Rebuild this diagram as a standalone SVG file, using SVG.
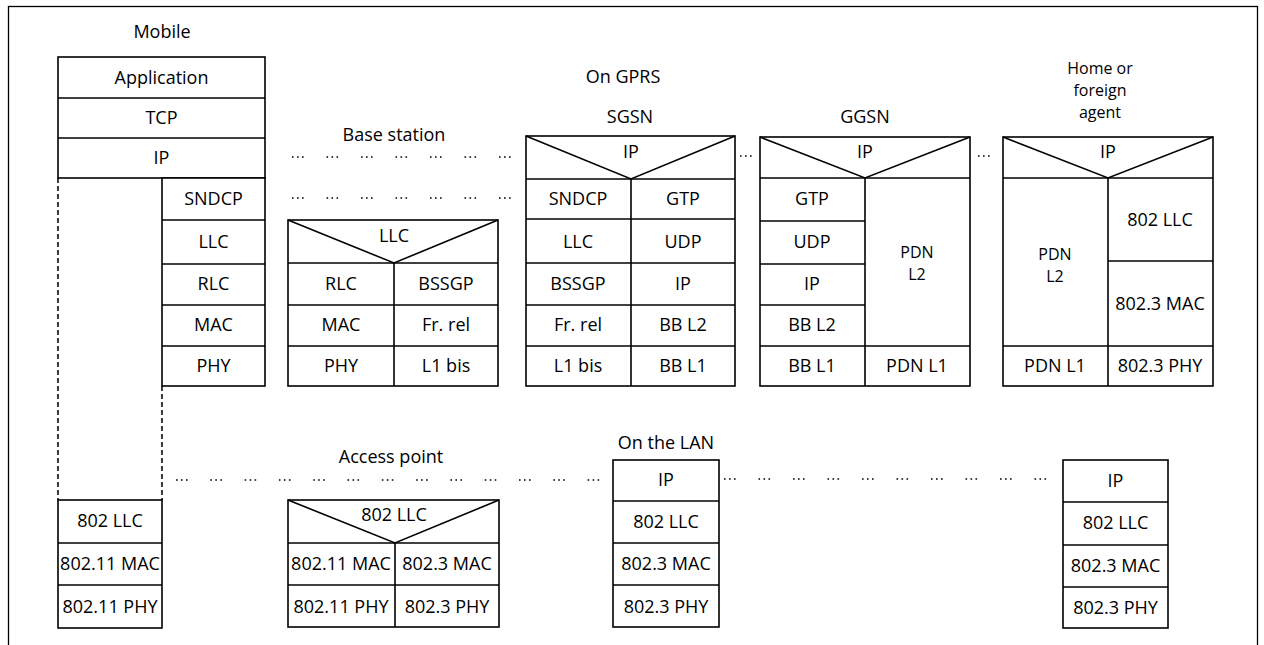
<svg xmlns="http://www.w3.org/2000/svg" width="1264" height="645" viewBox="0 0 1264 645">
<style>
  .box { fill: #fff; stroke: #000; stroke-width: 1.6; }
  .ln { stroke: #000; stroke-width: 1.6; fill: none; }
  .t { font-family: "Open Sans", "Liberation Sans", sans-serif; font-size: 18px; fill: #000; text-anchor: middle; }
  .lbl { font-family: "Open Sans", "Liberation Sans", sans-serif; font-size: 18px; fill: #000; text-anchor: middle; }
  .sm { font-size: 16px; }
  .dots { stroke: #000; stroke-width: 1.6; fill: none; stroke-dasharray: 1.6 3.4 1.6 3.4 1.6 22.9; }
  .dots2 { stroke: #000; stroke-width: 1.6; fill: none; stroke-dasharray: 1.6 3.4 1.6 3.4 1.6 22.7; }
  .dash { stroke: #000; stroke-width: 1.5; fill: none; stroke-dasharray: 5 3; }
  .frame { fill: none; stroke: #000; stroke-width: 1.3; }
</style>
<rect width="1264" height="645" fill="#fff"/>
<rect class="frame" x="8.5" y="6.5" width="1249" height="700"/>

<g id="labels">
  <text class="lbl" x="162" y="38">Mobile</text>
  <text class="lbl" x="623" y="83">On GPRS</text>
  <text class="lbl" x="394" y="141">Base station</text>
  <text class="lbl" x="630" y="123">SGSN</text>
  <text class="lbl" x="865" y="123">GGSN</text>
  <text class="lbl sm" x="1100" y="74">Home or</text>
  <text class="lbl sm" x="1100" y="96">foreign</text>
  <text class="lbl sm" x="1100" y="118">agent</text>
  <text class="lbl" x="391" y="463">Access point</text>
  <text class="lbl" x="666" y="449">On the LAN</text>
</g>

<g id="connectors">
  <line class="dots" x1="292" y1="157" x2="512" y2="157"/>
  <line class="dots" x1="292" y1="198" x2="512" y2="198"/>
  <line class="dots" x1="740" y1="156" x2="753" y2="156"/>
  <line class="dots" x1="978" y1="156" x2="991" y2="156"/>
  <line class="dots2" x1="176" y1="480" x2="600" y2="480"/>
  <line class="dots" x1="724" y1="479" x2="1051" y2="479"/>
  <line class="dash" x1="58" y1="178" x2="58" y2="500"/>
  <line class="dash" x1="162" y1="386" x2="162" y2="500"/>
</g>

<g id="mobile">
  <rect class="box" x="58" y="57" width="207" height="121"/>
  <line class="ln" x1="58" y1="98" x2="265" y2="98"/>
  <line class="ln" x1="58" y1="138" x2="265" y2="138"/>
  <text class="t" x="161.5" y="84">Application</text>
  <text class="t" x="161.5" y="124">TCP</text>
  <text class="t" x="161.5" y="164">IP</text>
  <rect class="box" x="162" y="178" width="103" height="208"/>
  <line class="ln" x1="162" y1="220" x2="265" y2="220"/>
  <line class="ln" x1="162" y1="264" x2="265" y2="264"/>
  <line class="ln" x1="162" y1="305" x2="265" y2="305"/>
  <line class="ln" x1="162" y1="346" x2="265" y2="346"/>
  <text class="t" x="213.5" y="205">SNDCP</text>
  <text class="t" x="213.5" y="248">LLC</text>
  <text class="t" x="213.5" y="290">RLC</text>
  <text class="t" x="213.5" y="331">MAC</text>
  <text class="t" x="213.5" y="372">PHY</text>
</g>

<g id="mobile-wlan">
  <rect class="box" x="58" y="500" width="104" height="128"/>
  <line class="ln" x1="58" y1="543" x2="162" y2="543"/>
  <line class="ln" x1="58" y1="585" x2="162" y2="585"/>
  <text class="t" x="110" y="527">802 LLC</text>
  <text class="t" x="110" y="570">802.11 MAC</text>
  <text class="t" x="110" y="613">802.11 PHY</text>
</g>

<g id="base-station">
  <rect class="box" x="288" y="220" width="210" height="166"/>
  <polyline class="ln" points="288,220 394,263 498,220"/>
  <line class="ln" x1="288" y1="263" x2="498" y2="263"/>
  <line class="ln" x1="288" y1="305" x2="498" y2="305"/>
  <line class="ln" x1="288" y1="346" x2="498" y2="346"/>
  <line class="ln" x1="394" y1="263" x2="394" y2="386"/>
  <text class="t" x="394" y="242">LLC</text>
  <text class="t" x="341" y="290">RLC</text>
  <text class="t" x="446" y="290">BSSGP</text>
  <text class="t" x="341" y="331">MAC</text>
  <text class="t" x="446" y="331">Fr. rel</text>
  <text class="t" x="341" y="372">PHY</text>
  <text class="t" x="446" y="372">L1 bis</text>
</g>

<g id="sgsn">
  <rect class="box" x="526" y="136" width="209" height="250"/>
  <polyline class="ln" points="526,136 631,179 735,136"/>
  <line class="ln" x1="526" y1="179" x2="735" y2="179"/>
  <line class="ln" x1="526" y1="219" x2="735" y2="219"/>
  <line class="ln" x1="526" y1="263" x2="735" y2="263"/>
  <line class="ln" x1="526" y1="305" x2="735" y2="305"/>
  <line class="ln" x1="526" y1="346" x2="735" y2="346"/>
  <line class="ln" x1="631" y1="179" x2="631" y2="386"/>
  <text class="t" x="631" y="158">IP</text>
  <text class="t" x="578" y="205">SNDCP</text>
  <text class="t" x="683" y="205">GTP</text>
  <text class="t" x="578" y="248">LLC</text>
  <text class="t" x="683" y="248">UDP</text>
  <text class="t" x="578" y="290">BSSGP</text>
  <text class="t" x="683" y="290">IP</text>
  <text class="t" x="578" y="331">Fr. rel</text>
  <text class="t" x="683" y="331">BB L2</text>
  <text class="t" x="578" y="372">L1 bis</text>
  <text class="t" x="683" y="372">BB L1</text>
</g>

<g id="ggsn">
  <rect class="box" x="760" y="137" width="210" height="249"/>
  <polyline class="ln" points="760,137 865,178 970,137"/>
  <line class="ln" x1="760" y1="178" x2="970" y2="178"/>
  <line class="ln" x1="760" y1="221" x2="865" y2="221"/>
  <line class="ln" x1="760" y1="264" x2="865" y2="264"/>
  <line class="ln" x1="760" y1="305" x2="865" y2="305"/>
  <line class="ln" x1="760" y1="346" x2="970" y2="346"/>
  <line class="ln" x1="865" y1="178" x2="865" y2="386"/>
  <text class="t" x="865" y="158">IP</text>
  <text class="t" x="812" y="205">GTP</text>
  <text class="t" x="812" y="248">UDP</text>
  <text class="t" x="812" y="290">IP</text>
  <text class="t" x="812" y="331">BB L2</text>
  <text class="t" x="812" y="372">BB L1</text>
  <text class="t sm" x="917" y="258">PDN</text>
  <text class="t sm" x="917" y="280">L2</text>
  <text class="t" x="917" y="372">PDN L1</text>
</g>

<g id="home-agent">
  <rect class="box" x="1003" y="137" width="210" height="249"/>
  <polyline class="ln" points="1003,137 1108,178 1213,137"/>
  <line class="ln" x1="1003" y1="178" x2="1213" y2="178"/>
  <line class="ln" x1="1108" y1="261" x2="1213" y2="261"/>
  <line class="ln" x1="1003" y1="346" x2="1213" y2="346"/>
  <line class="ln" x1="1108" y1="178" x2="1108" y2="386"/>
  <text class="t" x="1108" y="158">IP</text>
  <text class="t" x="1160" y="226">802 LLC</text>
  <text class="t" x="1160" y="310">802.3 MAC</text>
  <text class="t sm" x="1055" y="260">PDN</text>
  <text class="t sm" x="1055" y="282">L2</text>
  <text class="t" x="1055" y="372">PDN L1</text>
  <text class="t" x="1160" y="372">802.3 PHY</text>
</g>

<g id="access-point">
  <rect class="box" x="288" y="500" width="211" height="127"/>
  <polyline class="ln" points="288,500 395,543 499,500"/>
  <line class="ln" x1="288" y1="543" x2="499" y2="543"/>
  <line class="ln" x1="288" y1="585" x2="499" y2="585"/>
  <line class="ln" x1="395" y1="543" x2="395" y2="627"/>
  <text class="t" x="394" y="521">802 LLC</text>
  <text class="t" x="341" y="570">802.11 MAC</text>
  <text class="t" x="447" y="570">802.3 MAC</text>
  <text class="t" x="341" y="613">802.11 PHY</text>
  <text class="t" x="447" y="613">802.3 PHY</text>
</g>

<g id="lan-host">
  <rect class="box" x="613" y="460" width="106" height="167"/>
  <line class="ln" x1="613" y1="501" x2="719" y2="501"/>
  <line class="ln" x1="613" y1="543" x2="719" y2="543"/>
  <line class="ln" x1="613" y1="585" x2="719" y2="585"/>
  <text class="t" x="666" y="486">IP</text>
  <text class="t" x="666" y="528">802 LLC</text>
  <text class="t" x="666" y="570">802.3 MAC</text>
  <text class="t" x="666" y="613">802.3 PHY</text>
</g>

<g id="lan-agent">
  <rect class="box" x="1063" y="460" width="105" height="168"/>
  <line class="ln" x1="1063" y1="502" x2="1168" y2="502"/>
  <line class="ln" x1="1063" y1="545" x2="1168" y2="545"/>
  <line class="ln" x1="1063" y1="587" x2="1168" y2="587"/>
  <text class="t" x="1115.5" y="487">IP</text>
  <text class="t" x="1115.5" y="529">802 LLC</text>
  <text class="t" x="1115.5" y="572">802.3 MAC</text>
  <text class="t" x="1115.5" y="614">802.3 PHY</text>
</g>
</svg>
